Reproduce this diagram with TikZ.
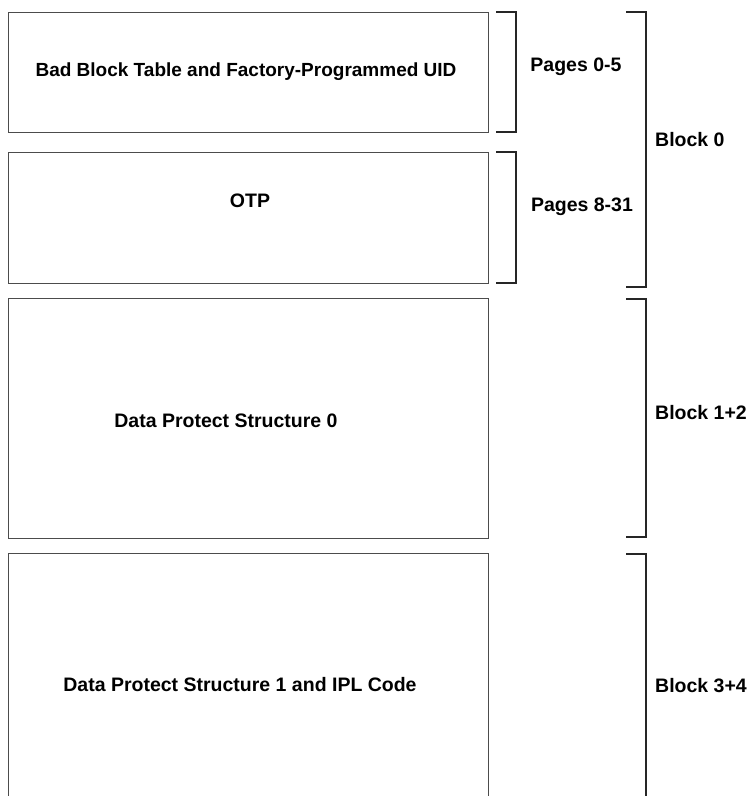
\documentclass[tikz,border=0pt]{standalone}
\usepackage{fontspec}
\setmainfont{Liberation Sans}
\begin{document}
\begin{tikzpicture}[x=1pt,y=-1pt,
  box/.style={draw=black!70, line width=1.1pt, inner sep=0pt, anchor=north west},
  brk/.style={draw=black!85, line width=1.1pt},
  lbl/.style={font=\fontsize{19.5}{22}\selectfont\bfseries, inner sep=0pt, text=black}]
\useasboundingbox (0,0) rectangle (751,796);
\clip (0,0) rectangle (751,796);
% boxes
\node[box, minimum width=480pt, minimum height=120pt] (b1) at (8,12) {};
\node[box, minimum width=480pt, minimum height=131pt] (b2) at (8,152) {};
\node[box, minimum width=480pt, minimum height=240pt] (b3) at (8,298) {};
\node[box, minimum width=480pt, minimum height=260pt] (b4) at (8,553) {};
% box texts
\node[lbl, font=\fontsize{19}{22}\selectfont\bfseries] (t1) at (246,72) {Bad Block Table and Factory-Programmed UID};
\node[lbl] (t2) at (250,201) {OTP};
\node[lbl] (t3) at (226,421) {Data Protect Structure 0};
\node[lbl] (t4) at (240,685) {Data Protect Structure 1 and IPL Code};
% small brackets
\coordinate (s1a) at (496,12); \coordinate (s1b) at (496,132);
\coordinate (s2a) at (496,152); \coordinate (s2b) at (496,283);
\draw[brk] (s1a) -- ++(20,0) |- (s1b);
\draw[brk] (s2a) -- ++(20,0) |- (s2b);
\node[lbl] (p1) at (576,67) {Pages 0-5};
\node[lbl] (p2) at (582,207) {Pages 8-31};
% big brackets
\coordinate (k0a) at (626,12); \coordinate (k0b) at (626,287);
\coordinate (k1a) at (626,299); \coordinate (k1b) at (626,537);
\coordinate (k2a) at (626,554); \coordinate (k2b) at (646,810);
\draw[brk] (k0a) -- ++(20,0) |- (k0b);
\draw[brk] (k1a) -- ++(20,0) |- (k1b);
\draw[brk] (k2a) -- ++(20,0) -- (k2b);
\node[lbl, anchor=west] (l0) at (655,140) {Block 0};
\node[lbl, anchor=west] (l1) at (655,413) {Block 1+2};
\node[lbl, anchor=west] (l2) at (655,686) {Block 3+4};
\end{tikzpicture}
\end{document}
